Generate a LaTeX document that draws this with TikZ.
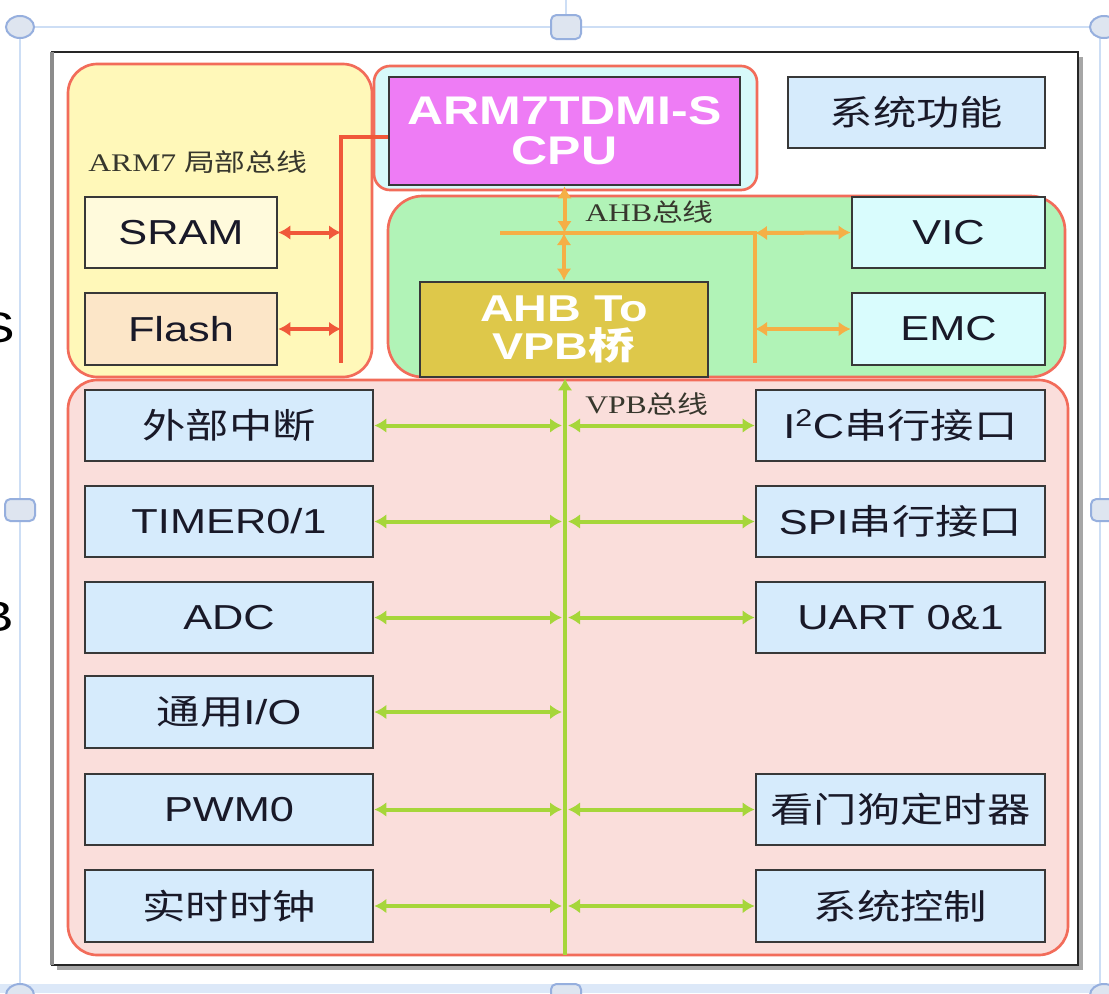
\documentclass[tikz,border=0pt]{standalone}
\usepackage{fontspec}
\setmainfont{Liberation Serif}[FakeStretch=1.25]
\newfontfamily\sansf{Liberation Sans}[FakeStretch=1.25]
\newfontfamily\cjkf{Noto Sans CJK SC}[FakeStretch=1.25]
\usetikzlibrary{arrows.meta}
\definecolor{regred}{RGB}{242,108,90}
\definecolor{busred}{RGB}{240,88,58}
\definecolor{yelfill}{RGB}{255,248,185}
\definecolor{cyanfill}{RGB}{215,250,250}
\definecolor{cpufill}{RGB}{238,124,245}
\definecolor{grnfill}{RGB}{177,243,183}
\definecolor{vicfill}{RGB}{217,252,253}
\definecolor{goldfill}{RGB}{222,200,74}
\definecolor{pinkfill}{RGB}{250,222,219}
\definecolor{boxblue}{RGB}{214,235,252}
\definecolor{sramfill}{RGB}{255,250,220}
\definecolor{flashfill}{RGB}{252,230,200}
\definecolor{busorange}{RGB}{245,175,70}
\definecolor{busgreen}{RGB}{166,214,58}
\definecolor{selblue}{RGB}{205,222,245}
\definecolor{handlefill}{RGB}{222,229,240}
\definecolor{handledraw}{RGB}{150,175,222}
\definecolor{txtdark}{RGB}{25,25,40}
\definecolor{lbltxt}{RGB}{55,55,45}
\newcommand\boxfont{\sansf\fontsize{26}{30}\selectfont}
\newcommand\cjkbox{\cjkf\fontsize{26}{30}\selectfont}
\newcommand\lblfont{\fontsize{19}{22}\selectfont}
\newcommand\lblcjk{\cjkf\fontsize{18.5}{22}\selectfont}
% \bx{name}{x1}{y1}{x2}{y2}{style}{text}
\newcommand\bx[7]{%
  \pgfmathsetmacro\bxw{(#4-#2)*0.75}%
  \pgfmathsetmacro\bxh{(#5-#3)*0.75}%
  \node[#6, minimum width=\bxw pt, minimum height=\bxh pt] (#1) at ({(#2+#4)/2},{(#3+#5)/2}) {#7};}
\begin{document}
\begin{tikzpicture}[x=0.75pt,y=-0.75pt,
  region/.style={draw=regred, line width=2pt, rounded corners=22pt, inner sep=0pt},
  blk/.style={draw=black!78, line width=2pt, inner sep=0pt, fill=boxblue, text=txtdark, font=\boxfont},
  lbl/.style={text=lbltxt, font=\lblfont, inner sep=0pt},
  rb/.style={draw=busred, line width=3pt},
  rbarr/.style={rb, {Latex[length=9pt,width=11pt]}-{Latex[length=9pt,width=11pt]}},
  ob/.style={draw=busorange, line width=3pt},
  obarr/.style={ob, {Latex[length=9pt,width=11pt]}-{Latex[length=9pt,width=11pt]}},
  gb/.style={draw=busgreen, line width=3pt},
  gbarr/.style={gb, {Latex[length=9pt,width=11pt]}-{Latex[length=9pt,width=11pt]}},
  handle/.style={fill=handlefill, draw=handledraw, line width=1.5pt}
]
\useasboundingbox (0,0) rectangle (1109,993);
\fill[white] (0,0) rectangle (1109,993);
% selection frame (screenshot artefacts)
\fill[selblue!70] (0,984) rectangle (1109,993);
\draw[selblue, line width=1.5pt] (20,27) -- (1109,27);
\draw[selblue, line width=1.5pt] (20,27) -- (20,993);
\draw[selblue, line width=1.5pt] (1100,27) -- (1100,993);
\draw[selblue, line width=1.5pt] (566,0) -- (566,27);
\draw[handle] (20,27) ellipse [x radius=14, y radius=11];
\draw[handle] (1104,27) ellipse [x radius=14, y radius=11];
\draw[handle, rounded corners=4pt] (551,15) rectangle (581,39);
\draw[handle, rounded corners=4pt] (5,499) rectangle (35,521);
\draw[handle, rounded corners=4pt] (1091,499) rectangle (1120,521);
\draw[handle] (20,995) ellipse [x radius=14, y radius=11];
\draw[handle] (1104,995) ellipse [x radius=14, y radius=11];
\draw[handle, rounded corners=4pt] (551,984) rectangle (581,1006);
% cut-off letters of a neighbouring picture
\node[font=\sansf\fontsize{32}{36}\selectfont, inner sep=0pt] (cutS) at (-3,328) {S};
\node[font=\sansf\fontsize{32}{36}\selectfont, inner sep=0pt] (cutB) at (-4,617) {B};
% outer frame with shadow
\fill[black!35] (57,57) rectangle (1083,970);
\draw[black!85, line width=1.5pt, fill=white] (52,52) rectangle (1078,965);
\draw[black!45, line width=2.5pt] (52,52) -- (52,965);
% regions
\bx{locreg}{68}{64}{372}{377}{region, fill=yelfill}{}
\bx{cpureg}{374}{66}{757}{190}{region, fill=cyanfill, rounded corners=12pt}{}
\bx{ahbreg}{388}{196}{1065}{377}{region, fill=grnfill, rounded corners=26pt}{}
\bx{vpbreg}{68}{380}{1068}{955}{region, fill=pinkfill}{}
% CPU and system function
\bx{cpu}{389}{77}{740}{185}{blk, fill=cpufill, text=white, align=center, font=\sansf\bfseries\fontsize{30}{30}\selectfont}{ARM7TDMI-S\\CPU}
\bx{sysfn}{788}{77}{1045}{148}{blk, font=\cjkbox}{系统功能}
% local bus
\bx{sram}{85}{197}{277}{268}{blk, fill=sramfill}{SRAM}
\bx{flash}{85}{293}{277}{365}{blk, fill=flashfill}{Flash}
\node[lbl, anchor=west] (lblloc) at (88,162) {ARM7 {\lblcjk 局部总线}};
% AHB
\bx{vic}{852}{197}{1045}{268}{blk, fill=vicfill}{VIC}
\bx{emc}{852}{293}{1045}{365}{blk, fill=vicfill}{EMC}
\bx{bridge}{420}{282}{708}{377}{blk, fill=goldfill, text=white, align=center, font=\sansf\bfseries\fontsize{28}{28}\selectfont}{AHB To\\VPB{\cjkf\bfseries 桥}}
\node[lbl, anchor=west] (lblahb) at (585,212) {AHB{\lblcjk 总线}};
% VPB peripherals, left
\bx{extint}{85}{390}{373}{461}{blk, font=\cjkbox}{外部中断}
\bx{timer}{85}{486}{373}{557}{blk}{TIMER0/1}
\bx{adc}{85}{582}{373}{653}{blk}{ADC}
\bx{gpio}{85}{676}{373}{748}{blk}{{\cjkf 通用}I/O}
\bx{pwm}{85}{774}{373}{845}{blk}{PWM0}
\bx{rtc}{85}{870}{373}{942}{blk, font=\cjkbox}{实时时钟}
% VPB peripherals, right
\bx{i2c}{756}{390}{1045}{461}{blk}{I\textsuperscript{2}C{\cjkf 串行接口}}
\bx{spi}{756}{486}{1045}{557}{blk}{SPI{\cjkf 串行接口}}
\bx{uart}{756}{582}{1045}{653}{blk}{UART 0\&1}
\bx{wdt}{756}{774}{1045}{845}{blk, font=\cjkbox}{看门狗定时器}
\bx{sysctl}{756}{870}{1045}{942}{blk, font=\cjkbox}{系统控制}
\node[lbl, anchor=west] (lblvpb) at (585,404) {VPB{\lblcjk 总线}};
% local bus connectors
\coordinate (lbt) at (341,137);
\coordinate (lbb) at (341,363);
\draw[rb] (cpu.west |- lbt) -- (lbt) -- (lbb);
\draw[rbarr] (sram.east) -- (sram.east -| lbt);
\draw[rbarr] (flash.east) -- (flash.east -| lbt);
% AHB connectors
\coordinate (ahbl) at (500,233);
\coordinate (ahbr) at (755,233);
\coordinate (ahbb) at (755,363);
\draw[ob] (ahbl) -- (ahbr) -- (ahbb);
\draw[obarr] (cpu.south) -- (cpu.south |- ahbl);
\draw[obarr] (bridge.north |- ahbl) -- (bridge.north);
\draw[obarr] (ahbr) -- (vic.west);
\draw[obarr] (emc.west -| ahbr) -- (emc.west);
% VPB connectors
\coordinate (vpbb) at (565,955);
\draw[gb, -{Latex[length=9pt,width=11pt]}] (vpbb) -- (vpbb |- bridge.south);
\coordinate (vl) at (562,0);
\coordinate (vr) at (568,0);
\foreach \n in {extint,timer,adc,gpio,pwm,rtc}
  \draw[gbarr] (\n.east) -- (\n.east -| vl);
\foreach \n in {i2c,spi,uart,wdt,sysctl}
  \draw[gbarr] (\n.west -| vr) -- (\n.west);
\end{tikzpicture}
\end{document}
